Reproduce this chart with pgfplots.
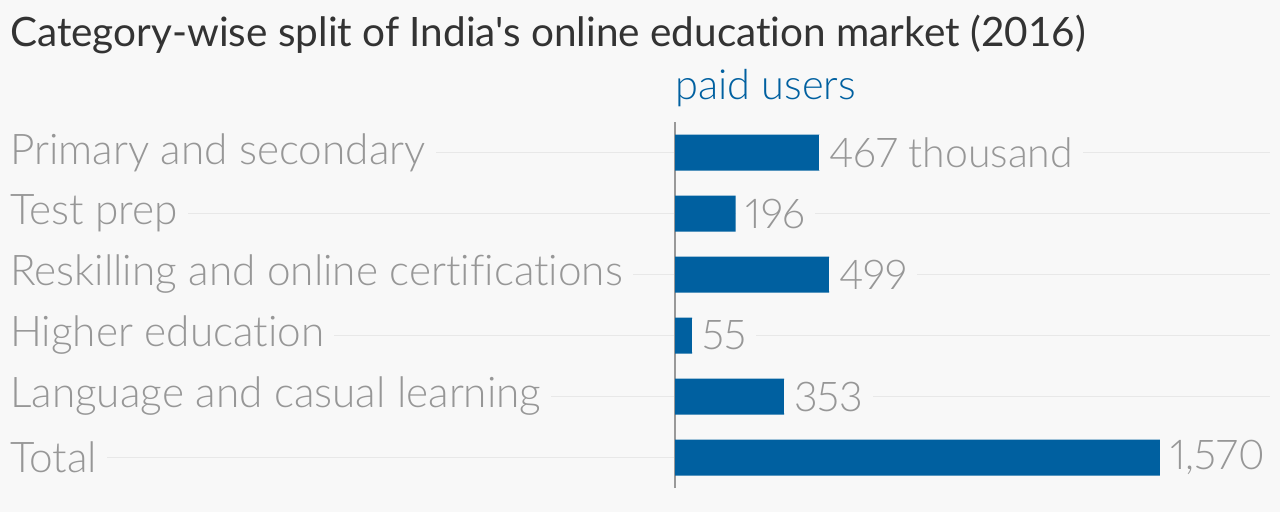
\documentclass[border=0pt]{standalone}
\usepackage{pgfplots}
\usepackage{pgfplotstable}
\pgfplotsset{compat=1.18}
\usepackage{fontspec}
\setmainfont{Lato}[Ligatures={TeXOff,CommonOff}]
\newfontfamily\lightfont{Lato Light}[Ligatures={TeXOff,CommonOff},Numbers=Proportional]
\definecolor{bg}{HTML}{F8F8F8}
\definecolor{barblue}{HTML}{0060A0}
\definecolor{labc}{HTML}{979797}
\definecolor{ttl}{HTML}{333333}
\definecolor{gridc}{HTML}{E8E8E8}
\definecolor{axisc}{HTML}{999999}
\pgfplotstableread{
y val lab
5 467 {467 thousand}
4 196 196
3 499 499
2 55 55
1 353 353
0 1570 {1,570}
}\datatable
\begin{document}
\begin{tikzpicture}[x=1pt,y=1pt]
\useasboundingbox (0,0) rectangle (1280,512);
\fill[bg] (0,0) rectangle (1280,512);
\node[anchor=base west, inner sep=0, text=ttl, font=\fontsize{40.5}{44}\selectfont] at (10,465) {Category-wise split of India's online education market (2016)};
\node[anchor=base west, inner sep=0, text=barblue, font=\lightfont\fontsize{41.5}{44}\selectfont] at (675,412) {paid users};
\begin{axis}[at={(0pt,24pt)}, anchor=south west, scale only axis,
  width=1270pt, height=366pt,
  xbar, bar width=36pt,
  xmin=-2185, xmax=1926, ymin=-0.5, ymax=5.5,
  axis line style={draw=none},
  major tick length=0pt,
  xtick=\empty,
  ytick={0,1,2,3,4,5},
  yticklabels={Total,Language and casual learning,Higher education,Reskilling and online certifications,Test prep,Primary and secondary},
  yticklabel style={anchor=west, fill=bg, inner xsep=10pt, inner ysep=2pt, text=labc, font=\lightfont\fontsize{42.3}{44}\selectfont},
  ymajorgrids, major grid style={draw=gridc, line width=1.5pt},
  extra x ticks={0}, extra x tick labels={},
  extra x tick style={grid=major, major grid style={draw=axisc, line width=1.2pt}},
  clip=false,
]
\addplot[fill=barblue, draw=none, nodes near coords, point meta=explicit symbolic,
  nodes near coords style={anchor=west, fill=bg, inner xsep=10pt, inner ysep=2pt, text=labc, font=\lightfont\fontsize{41}{44}\selectfont}]
  table[x=val, y=y, meta=lab] {\datatable};
\end{axis}
\end{tikzpicture}
\end{document}
